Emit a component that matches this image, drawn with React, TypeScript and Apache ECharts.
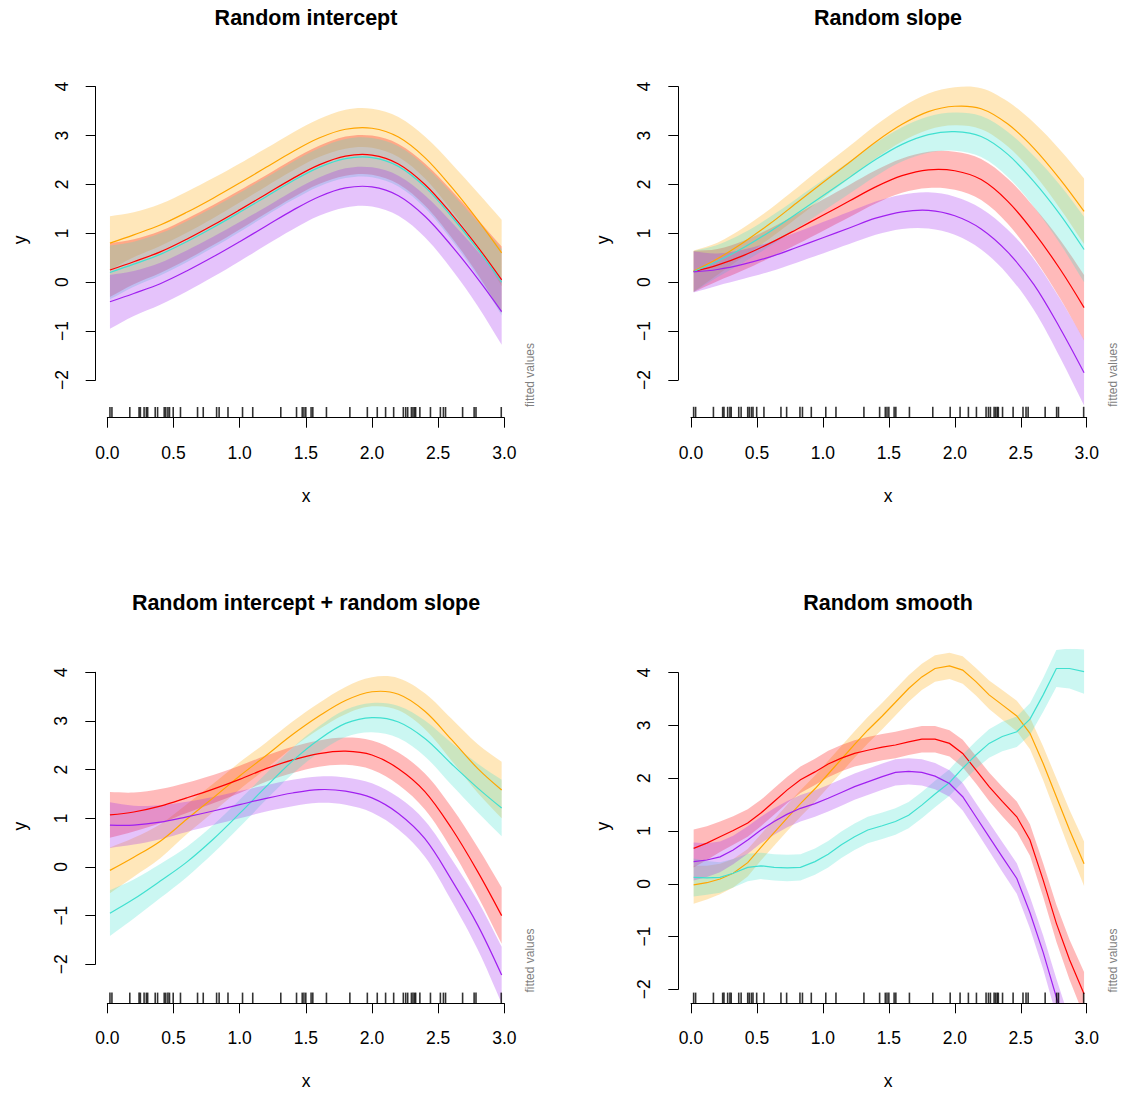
import { useEffect, useRef } from "react";
import * as echarts from "echarts";

// ---------- data ----------
const TITLES = ["Random intercept", "Random slope", "Random intercept + random slope", "Random smooth"];
const X_TICK_INTERVAL = 0.5;
const Y_TICK_MIN = -2;
const Y_TICK_MAX = 4;

const RUG_X = [0.02, 0.035, 0.17, 0.24, 0.25, 0.278, 0.295, 0.305, 0.362, 0.38, 0.43, 0.442, 0.458, 0.47, 0.498, 0.553,
  0.682, 0.725, 0.826, 0.845, 0.912, 1.022, 1.099, 1.311, 1.43, 1.473, 1.486, 1.5, 1.54, 1.553, 1.656, 1.833, 1.965,
  2.04, 2.103, 2.164, 2.237, 2.255, 2.27, 2.298, 2.31, 2.322, 2.33, 2.362, 2.442, 2.517, 2.54, 2.556, 2.685, 2.772,
  2.786, 2.977];

const X_SMOOTH = [0.02, 0.2, 0.4, 0.6, 0.8, 1.0, 1.2, 1.4, 1.6, 1.8, 2.0, 2.2, 2.4, 2.6, 2.8, 2.98];

// Panel 1: random intercept
const P1_ORANGE = [0.80, 0.97, 1.17, 1.43, 1.72, 2.03, 2.35, 2.67, 2.95, 3.13, 3.15, 2.97, 2.55, 1.95, 1.27, 0.60];
const P1_RED = [0.25, 0.42, 0.62, 0.88, 1.17, 1.48, 1.80, 2.12, 2.40, 2.58, 2.60, 2.42, 2.00, 1.40, 0.72, 0.05];
const P1_CYAN = [0.20, 0.37, 0.57, 0.83, 1.12, 1.43, 1.75, 2.07, 2.35, 2.53, 2.55, 2.37, 1.95, 1.35, 0.67, 0.00];
const P1_PURPLE = [-0.40, -0.23, -0.03, 0.23, 0.52, 0.83, 1.15, 1.47, 1.75, 1.93, 1.95, 1.77, 1.35, 0.75, 0.07, -0.60];
const P1_SE = [0.55, 0.46, 0.43, 0.42, 0.41, 0.40, 0.39, 0.39, 0.39, 0.40, 0.40, 0.41, 0.43, 0.48, 0.56, 0.68];

// Panel 2: random slope
const P2_ORANGE = [0.23, 0.48, 0.82, 1.20, 1.62, 2.04, 2.45, 2.87, 3.23, 3.49, 3.60, 3.55, 3.24, 2.74, 2.10, 1.45];
const P2_RED = [0.22, 0.35, 0.55, 0.80, 1.08, 1.37, 1.66, 1.95, 2.18, 2.30, 2.28, 2.10, 1.66, 1.02, 0.26, -0.52];
const P2_CYAN = [0.22, 0.43, 0.71, 1.04, 1.40, 1.77, 2.14, 2.51, 2.82, 3.02, 3.08, 2.98, 2.62, 2.06, 1.38, 0.67];
const P2_PURPLE = [0.21, 0.26, 0.37, 0.52, 0.71, 0.91, 1.11, 1.31, 1.44, 1.47, 1.36, 1.09, 0.62, -0.05, -0.95, -1.85];
const P2_SE = [0.42, 0.33, 0.30, 0.30, 0.31, 0.32, 0.33, 0.34, 0.35, 0.37, 0.39, 0.42, 0.46, 0.52, 0.60, 0.67];

// Panel 3: random intercept + random slope
const P3_ORANGE = [-0.07, 0.20, 0.53, 0.98, 1.42, 1.87, 2.29, 2.72, 3.10, 3.42, 3.60, 3.55, 3.20, 2.62, 2.02, 1.58];
const P3_RED = [1.07, 1.13, 1.25, 1.42, 1.60, 1.80, 2.02, 2.20, 2.33, 2.38, 2.30, 2.02, 1.55, 0.80, -0.10, -1.00];
const P3_CYAN = [-0.95, -0.66, -0.29, 0.10, 0.57, 1.10, 1.65, 2.18, 2.62, 2.95, 3.07, 2.98, 2.64, 2.12, 1.62, 1.21];
const P3_PURPLE = [0.86, 0.86, 0.92, 1.03, 1.15, 1.28, 1.41, 1.52, 1.59, 1.56, 1.42, 1.10, 0.58, -0.26, -1.20, -2.22];
const P3_SE = [0.47, 0.40, 0.35, 0.31, 0.29, 0.28, 0.27, 0.27, 0.27, 0.28, 0.30, 0.33, 0.37, 0.43, 0.50, 0.58];

// Panel 4: random smooth (30-point grid)
const X_GRID30 = [0.02, 0.12, 0.22, 0.32, 0.43, 0.53, 0.63, 0.73, 0.83, 0.94, 1.04, 1.14, 1.24, 1.34, 1.45, 1.55, 1.65,
  1.75, 1.85, 1.96, 2.06, 2.16, 2.26, 2.36, 2.47, 2.57, 2.67, 2.77, 2.87, 2.98];
const P4_ORANGE = [-0.02, 0.02, 0.09, 0.20, 0.40, 0.69, 0.97, 1.25, 1.52, 1.80, 2.08, 2.36, 2.64, 2.91, 3.18, 3.44,
  3.70, 3.92, 4.08, 4.13, 4.05, 3.83, 3.58, 3.39, 3.18, 2.85, 2.28, 1.65, 1.02, 0.38];
const P4_RED = [0.67, 0.77, 0.89, 1.01, 1.15, 1.34, 1.56, 1.78, 1.97, 2.12, 2.27, 2.38, 2.47, 2.53, 2.59, 2.63, 2.69,
  2.74, 2.74, 2.66, 2.47, 2.16, 1.84, 1.56, 1.27, 0.83, 0.07, -0.75, -1.44, -2.09];
const P4_CYAN = [0.12, 0.11, 0.12, 0.20, 0.31, 0.34, 0.31, 0.30, 0.31, 0.42, 0.56, 0.74, 0.89, 1.02, 1.10, 1.18, 1.30,
  1.49, 1.70, 1.92, 2.19, 2.44, 2.66, 2.79, 2.88, 3.12, 3.58, 4.08, 4.08, 4.02];
const P4_PURPLE = [0.42, 0.45, 0.51, 0.64, 0.83, 1.02, 1.18, 1.32, 1.43, 1.52, 1.62, 1.73, 1.84, 1.93, 2.03, 2.11,
  2.13, 2.11, 2.04, 1.90, 1.65, 1.27, 0.89, 0.51, 0.10, -0.55, -1.30, -2.15, -2.95, -3.70];
const P4_SE = [0.36, 0.32, 0.29, 0.27, 0.26, 0.25, 0.25, 0.25, 0.25, 0.25, 0.25, 0.25, 0.25, 0.25, 0.25, 0.25, 0.25,
  0.25, 0.25, 0.25, 0.26, 0.26, 0.27, 0.28, 0.29, 0.30, 0.32, 0.35, 0.38, 0.42];

// ---------- styling / layout ----------
const COLORS: Record<string, { line: string; band: string }> = {
  orange: { line: "#FFA500", band: "rgba(255,165,0,0.27)" },
  red: { line: "#FF0000", band: "rgba(255,0,0,0.27)" },
  cyan: { line: "#40E0D0", band: "rgba(64,224,208,0.27)" },
  purple: { line: "#A020F0", band: "rgba(160,32,240,0.27)" },
};
const SERIES_ORDER = ["orange", "red", "cyan", "purple"];

const PANELS = [
  { x: X_SMOOTH, smooth: 0.35, se: P1_SE, series: { orange: P1_ORANGE, red: P1_RED, cyan: P1_CYAN, purple: P1_PURPLE } as Record<string, number[]> },
  { x: X_SMOOTH, smooth: 0.35, se: P2_SE, series: { orange: P2_ORANGE, red: P2_RED, cyan: P2_CYAN, purple: P2_PURPLE } as Record<string, number[]> },
  { x: X_SMOOTH, smooth: 0.35, se: P3_SE, series: { orange: P3_ORANGE, red: P3_RED, cyan: P3_CYAN, purple: P3_PURPLE } as Record<string, number[]> },
  { x: X_GRID30, smooth: 0, se: P4_SE, series: { orange: P4_ORANGE, red: P4_RED, cyan: P4_CYAN, purple: P4_PURPLE } as Record<string, number[]> },
];

const LAYOUT = [
  { axisX: 95.7, x0: 107.3, x3: 504.3, top: 62, bottom: 417.7, y4: 86.7, yM2: 380, cx: 306, titleY: 18, xlabY: 496, ylabX: 20, fvX: 530 },
  { axisX: 678.3, x0: 691, x3: 1086.7, top: 62, bottom: 417.5, y4: 86.7, yM2: 380, cx: 888, titleY: 18, xlabY: 496, ylabX: 603, fvX: 1113 },
  { axisX: 95.3, x0: 107.3, x3: 504.3, top: 648.7, bottom: 1003.3, y4: 672.3, yM2: 964.3, cx: 306, titleY: 603, xlabY: 1081, ylabX: 20, fvX: 530 },
  { axisX: 678.3, x0: 691, x3: 1086.7, top: 648.7, bottom: 1003.3, y4: 672.7, yM2: 989.3, cx: 888, titleY: 603, xlabY: 1081, ylabX: 603, fvX: 1113 },
];

const FONT = "'Liberation Sans', Arial, Helvetica, sans-serif";
const LABEL_SIZE = 17.5;
const RUG_H = 10.7;
const TICK_LEN = 10;

const fmtNum = (v: number, digits: number) => {
  const s = Math.abs(v).toFixed(digits);
  return v < 0 ? "\u2212" + s : s;
};

function makePanelSeries(gD: number, panel: (typeof PANELS)[number]) {
  const n = panel.x.length;
  return {
    type: "custom",
    xAxisIndex: gD,
    yAxisIndex: gD,
    coordinateSystem: "cartesian2d",
    clip: true,
    silent: true,
    data: [[1.5, 0]],
    renderItem: (params: any, api: any) => {
      const children: any[] = [];
      const cs = params.coordSys;
      SERIES_ORDER.forEach((key) => {
        const fit = panel.series[key];
        const up = panel.x.map((x, i) => api.coord([x, fit[i] + panel.se[i]]));
        const lo = panel.x.map((x, i) => api.coord([x, fit[i] - panel.se[i]]));
        const loRev = lo.slice().reverse();
        const pts = [up[0], ...up, up[n - 1], loRev[0], ...loRev, loRev[n - 1]];
        children.push({
          type: "polygon",
          shape: { points: pts, smooth: panel.smooth },
          style: { fill: COLORS[key].band, stroke: "none" },
        });
      });
      SERIES_ORDER.forEach((key) => {
        const fit = panel.series[key];
        const pts = panel.x.map((x, i) => api.coord([x, fit[i]]));
        children.push({
          type: "polyline",
          shape: { points: pts, smooth: panel.smooth },
          style: { stroke: COLORS[key].line, lineWidth: 1.2, fill: "none" },
        });
      });
      return {
        type: "group",
        children,
        clipPath: { type: "rect", shape: { x: cs.x, y: cs.y, width: cs.width, height: cs.height } },
      };
    },
  };
}

function buildOption() {
  const grid: any[] = [];
  const xAxis: any[] = [];
  const yAxis: any[] = [];
  const series: any[] = [];
  const graphic: any[] = [];

  PANELS.forEach((panel, p) => {
    const L = LAYOUT[p];
    const s = (L.yM2 - L.y4) / (Y_TICK_MAX - Y_TICK_MIN);
    const ymax = Y_TICK_MAX + (L.y4 - L.top) / s;
    const ymin = Y_TICK_MIN - (L.bottom - L.yM2) / s;

    const gD = grid.length;
    grid.push({ left: L.x0, top: L.top, width: L.x3 - L.x0, height: L.bottom - L.top });
    xAxis.push({ gridIndex: gD, type: "value", min: 0, max: 3, show: false });
    yAxis.push({ gridIndex: gD, type: "value", min: ymin, max: ymax, show: false });
    series.push(makePanelSeries(gD, panel));

    const gY = grid.length;
    grid.push({ left: L.axisX, top: L.y4, width: 20, height: L.yM2 - L.y4 });
    xAxis.push({ gridIndex: gY, type: "value", min: 0, max: 1, show: false });
    yAxis.push({
      gridIndex: gY, type: "value", min: Y_TICK_MIN, max: Y_TICK_MAX, interval: 1,
      axisLine: { show: true, onZero: false, lineStyle: { color: "#000", width: 1 } },
      axisTick: { show: true, length: TICK_LEN, lineStyle: { color: "#000", width: 1 } },
      axisLabel: { rotate: 90, fontSize: LABEL_SIZE, color: "#000", fontFamily: FONT, margin: 25, formatter: (v: number) => fmtNum(v, 0) },
      splitLine: { show: false },
    });

    const gR = grid.length;
    grid.push({ left: L.x0, top: L.bottom - RUG_H, width: L.x3 - L.x0, height: RUG_H });
    xAxis.push({
      gridIndex: gR, type: "value", min: 0, max: 3, interval: X_TICK_INTERVAL,
      axisLine: { show: true, onZero: false, lineStyle: { color: "#000", width: 1 } },
      axisTick: { show: true, length: TICK_LEN, lineStyle: { color: "#000", width: 1 } },
      axisLabel: { fontSize: LABEL_SIZE, color: "#000", fontFamily: FONT, margin: 26, formatter: (v: number) => fmtNum(v, 1) },
      splitLine: { show: false },
    });
    yAxis.push({ gridIndex: gR, type: "value", min: 0, max: 1, show: false });
    series.push({
      type: "scatter", xAxisIndex: gR, yAxisIndex: gR, symbol: "rect", symbolSize: [1.6, RUG_H],
      itemStyle: { color: "#000" }, silent: true, data: RUG_X.map((x) => [x, 0.5]),
    });

    graphic.push({
      type: "text", x: L.cx, y: L.titleY,
      style: { text: TITLES[p], font: `bold 21.5px ${FONT}`, fill: "#000", textAlign: "center", textVerticalAlign: "middle" },
    });
    graphic.push({
      type: "text", x: L.cx, y: L.xlabY,
      style: { text: "x", font: `${LABEL_SIZE}px ${FONT}`, fill: "#000", textAlign: "center", textVerticalAlign: "middle" },
    });
    graphic.push({
      type: "text", x: L.ylabX, y: (L.top + L.bottom) / 2, rotation: Math.PI / 2,
      style: { text: "y", font: `${LABEL_SIZE}px ${FONT}`, fill: "#000", textAlign: "center", textVerticalAlign: "middle" },
    });
    graphic.push({
      type: "text", x: L.fvX, y: L.bottom - RUG_H, rotation: Math.PI / 2,
      style: { text: "fitted values", font: `12px ${FONT}`, fill: "#7f7f7f", textAlign: "left", textVerticalAlign: "middle" },
    });
  });

  return {
    animation: false,
    backgroundColor: "#fff",
    textStyle: { fontFamily: FONT },
    grid, xAxis, yAxis, series, graphic,
  };
}

export default function App() {
  const ref = useRef<HTMLDivElement>(null);
  useEffect(() => {
    const chart = echarts.init(ref.current!, null, { renderer: "svg" });
    chart.setOption(buildOption() as any);
    return () => chart.dispose();
  }, []);
  return (
    <div
      ref={ref}
      style={{ position: "fixed", left: 0, top: 0, width: 1122, height: 1097, background: "#fff" }}
    />
  );
}
